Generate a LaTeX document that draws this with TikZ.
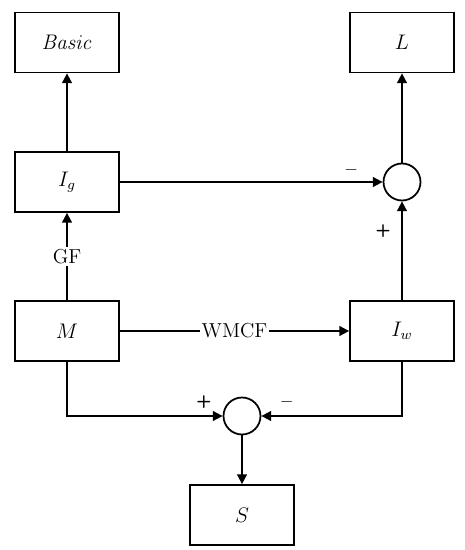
\documentclass[tikz,border=0pt]{standalone}
\usepackage{amsmath}
\usepackage{amssymb}
\usepackage{tikz}
\usetikzlibrary{arrows.meta,shapes,positioning,calc}

\begin{document}
\begin{tikzpicture}[x=0.02cm, y=-0.02cm,
    font=\fontsize{11.5}{13}\selectfont,
    block/.style={draw, line width=1pt, minimum width=2.08cm, minimum height=1.2cm, inner sep=0pt},
    sumnode/.style={draw, circle, line width=1pt, minimum size=0.74cm, inner sep=0pt},
    link/.style={line width=1pt},
    arr/.style={link, -{Triangle[length=5.5pt, width=5.5pt]}},
    sign/.style={inner sep=1pt, font=\fontsize{10}{12}\sffamily\bfseries}]
    \useasboundingbox (0,0) rectangle (465,550);

    % Blocks
    \node[block] (basic) at (67,42.5) {$\mathit{Basic}$};
    \node[block] (ig) at (67,182) {$I_g$};
    \node[block] (m) at (67,331) {$M$};
    \node[block] (l) at (402,42.5) {$L$};
    \node[block] (iw) at (402,331) {$I_w$};
    \node[block] (s) at (242,515) {$S$};

    % Summing points
    \node[sumnode] (sumtop) at (402,182) {};
    \node[sumnode] (sumbot) at (242,416) {};

    % Upper part
    \draw[arr] (ig.north) -- (basic.south);
    \draw[arr] (sumtop.north) -- (l.south);
    \draw[arr] (ig.east) -- (sumtop.west) node[sign, pos=0.88, above=2pt] {$-$};
    \draw[arr] (iw.north) -- (sumtop.south) node[sign, pos=0.7, left=5pt] {+};

    % Middle part
    \draw[arr] (m.north) -- (ig.south) node[midway, fill=white, inner sep=1pt] {GF};
    \draw[arr] (m.east) -- (iw.west) node[midway, fill=white, inner sep=1pt] {WMCF};

    % Lower part
    \draw[arr] (m.south) |- (sumbot.west) node[sign, pos=0.94, above=3pt] {+};
    \draw[arr] (iw.south) |- (sumbot.east) node[sign, pos=0.91, above=3pt] {$-$};
    \draw[arr] (sumbot.south) -- (s.north);
\end{tikzpicture}
\end{document}
